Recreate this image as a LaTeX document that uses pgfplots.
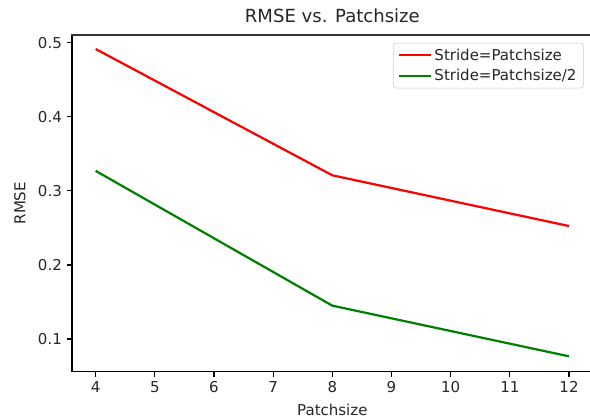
\documentclass[border=0pt]{standalone}
\usepackage{fontspec}
\setmainfont{DejaVu Sans}
\usepackage{pgfplots}
\pgfplotsset{compat=1.18}

\definecolor{mplred}{HTML}{FF0000}
\definecolor{mplgreen}{HTML}{008000}
\definecolor{txt}{HTML}{262626}

\begin{document}
\begin{tikzpicture}
\begin{axis}[
  name=ax,
  scale only axis,
  width=374.9pt, height=242.6pt,
  xmin=3.6, xmax=12.4,
  ymin=0.0559, ymax=0.5108,
  xtick={4,5,6,7,8,9,10,11,12},
  ytick={0.1,0.2,0.3,0.4,0.5},
  yticklabels={0.1,0.2,0.3,0.4,0.5},
  xtick pos=left, ytick pos=left,
  tick align=outside,
  major tick length=3.8pt,
  every tick/.style={black, line width=0.85pt},
  axis line style={black, line width=0.85pt},
  /pgf/number format/assume math mode=true,
  tick label style={font=\fontsize{10.8}{13}\selectfont, text=txt},
  label style={font=\fontsize{10.8}{13}\selectfont, text=txt},
  title style={font=\fontsize{13}{15}\selectfont, text=txt, yshift=-1pt},
  title={RMSE vs. Patchsize},
  xlabel={Patchsize},
  ylabel={RMSE},
  xlabel style={yshift=-1pt},
  ylabel style={yshift=2pt},
  legend cell align=left,
  legend style={at={(1,1)}, anchor=north east, xshift=-6.5pt, yshift=-5.8pt,
    draw=black!20, rounded corners=2pt, fill=white, fill opacity=0.8, text opacity=1,
    font=\fontsize{10.8}{13}\selectfont, text=txt,
    inner xsep=3pt, inner ysep=1.5pt, row sep=0pt,
    nodes={inner ysep=2.5pt}},
  legend image code/.code={\draw[#1] (0pt,0pt) -- (23pt,0pt);},
]
\addplot[mplred, line width=1.6pt] coordinates {(4,0.4915) (8,0.321) (12,0.2525)};
\addlegendentry{Stride=Patchsize}
\addplot[mplgreen, line width=1.6pt] coordinates {(4,0.327) (8,0.145) (12,0.0766)};
\addlegendentry{Stride=Patchsize/2}
\end{axis}
\draw[black!80, line width=1.4pt, line cap=rect]
  (ax.north west) -- (ax.north east) -- (ax.south east);
\pgfresetboundingbox
\path[use as bounding box] ([shift={(-51.84pt,-33.3pt)}]ax.south west)
  rectangle ([shift={(372.96pt,267.6pt)}]ax.south west);
\end{tikzpicture}
\end{document}
